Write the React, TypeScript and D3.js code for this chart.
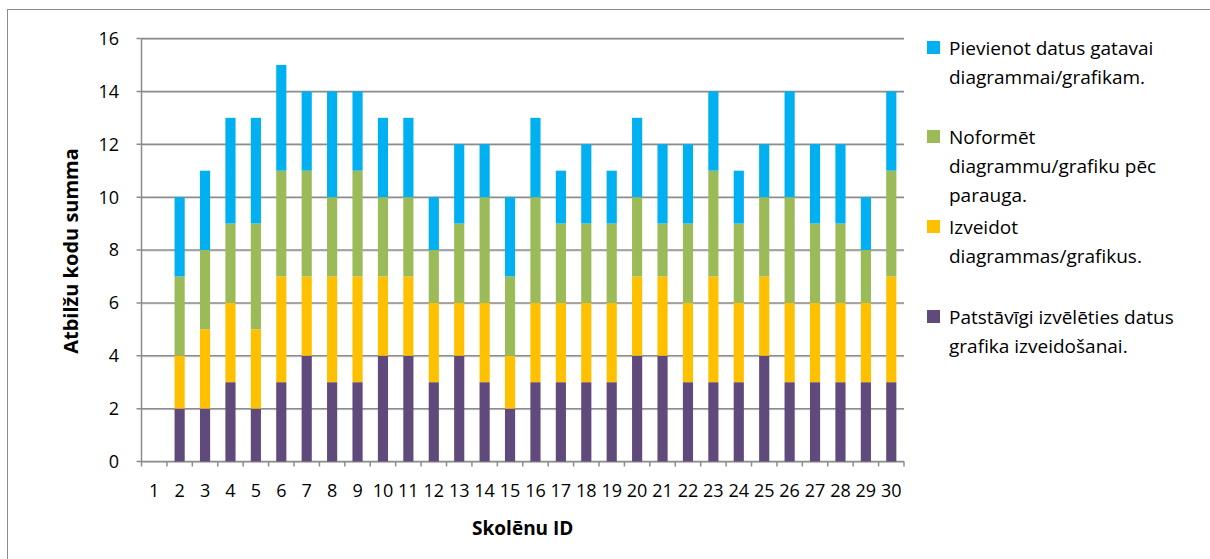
import React from "react";
import * as d3 from "d3";

const categories = ["1","2","3","4","5","6","7","8","9","10","11","12","13","14","15","16","17","18","19","20","21","22","23","24","25","26","27","28","29","30"];
const patstavigi = [0,2,2,3,2,3,4,3,3,4,4,3,4,3,2,3,3,3,3,4,4,3,3,3,4,3,3,3,3,3];
const izveidot = [0,2,3,3,3,4,3,4,4,3,3,3,2,3,2,3,3,3,3,3,3,3,4,3,3,3,3,3,3,4];
const noformet = [0,3,3,3,4,4,4,3,4,3,3,2,3,4,3,4,3,3,3,3,2,3,4,3,3,4,3,3,2,4];
const pievienot = [0,3,3,4,4,4,3,4,3,3,3,2,3,2,3,3,2,3,2,3,3,3,3,2,2,4,3,3,2,3];
const yTicks = [0,2,4,6,8,10,12,14,16];

const seriesKeys = ["patstavigi","izveidot","noformet","pievienot"];
const seriesColors = ["#604A7B","#FFC000","#9BBB59","#00B0F0"];
const legendItems = [
  { color: "#00B0F0", lines: ["Pievienot datus gatavai", "diagrammai/grafikam."], y: 41 },
  { color: "#9BBB59", lines: ["Noformēt", "diagrammu/grafiku pēc", "parauga."], y: 130 },
  { color: "#FFC000", lines: ["Izveidot", "diagrammas/grafikus."], y: 220 },
  { color: "#604A7B", lines: ["Patstāvīgi izvēlēties datus", "grafika izveidošanai."], y: 310 },
];

const FONT = "'Open Sans', Lato, sans-serif";

export default function App() {
  const W = 1210, H = 559;
  const left = 141.5, right = 904, top = 38.5, bottom = 461.5;
  const x = d3.scaleBand().domain(categories).range([left, right]).padding(0);
  const y = d3.scaleLinear().domain([0, 16]).range([bottom, top]);
  const rows = categories.map((c, i) => ({
    cat: c,
    patstavigi: patstavigi[i],
    izveidot: izveidot[i],
    noformet: noformet[i],
    pievienot: pievienot[i],
  }));
  const stacked = d3.stack<any>().keys(seriesKeys)(rows);
  const bw = x.bandwidth() * 0.4;
  const gridColor = "#8c8c8c";

  return (
    <svg width={W} height={H} style={{ position: "absolute", left: 0, top: 0, background: "#fff" }} fontFamily={FONT}>
      <rect x={0} y={0} width={W} height={H} fill="#fff" />
      <rect x={7.5} y={9.5} width={W + 10} height={H + 10} fill="none" stroke="#8c8c8c" strokeWidth={1} />
      {yTicks.map((t) => (
        <g key={t}>
          <line x1={left} x2={right} y1={y(t) + 1} y2={y(t) + 1} stroke="#d0d0d0" strokeWidth={1} />
          <line x1={left - 5} x2={right} y1={y(t)} y2={y(t)} stroke={gridColor} strokeWidth={1.5} />
          <text x={119} y={y(t)} dy="0.36em" textAnchor="end" fontSize={18} fill="#000">{t}</text>
        </g>
      ))}
      <line x1={left} x2={left} y1={top} y2={bottom} stroke={gridColor} strokeWidth={1.5} />
      {categories.map((c) => (
        <line key={"t" + c} x1={x(c)!} x2={x(c)!} y1={bottom} y2={bottom + 5} stroke={gridColor} strokeWidth={1.5} />
      ))}
      <line x1={right} x2={right} y1={bottom} y2={bottom + 5} stroke={gridColor} strokeWidth={1.5} />
      {stacked.map((s, si) => (
        <g key={s.key} fill={seriesColors[si]}>
          {s.map((d, i) => {
            const h = y(d[0]) - y(d[1]);
            if (h <= 0) return null;
            return (
              <rect key={i} x={x(categories[i])! + (x.bandwidth() - bw) / 2} y={y(d[1])} width={bw} height={h} />
            );
          })}
        </g>
      ))}
      {categories.map((c) => (
        <text key={"l" + c} x={x(c)! + x.bandwidth() / 2} y={497} textAnchor="middle" fontSize={18} fill="#000">{c}</text>
      ))}
      <text x={(left + right) / 2} y={535} textAnchor="middle" fontSize={19} fontWeight="bold" fill="#000">Skolēnu ID</text>
      <text transform={`translate(78, 251) rotate(-90)`} textAnchor="middle" fontSize={20} fontWeight="bold" fill="#000">Atbilžu kodu summa</text>
      {legendItems.map((it) => (
        <g key={it.color}>
          <rect x={927} y={it.y} width={13} height={13} fill={it.color} />
          {it.lines.map((ln, li) => (
            <text key={li} x={949} y={it.y + 14 + li * 29} fontSize={19} fill="#000">{ln}</text>
          ))}
        </g>
      ))}
    </svg>
  );
}
